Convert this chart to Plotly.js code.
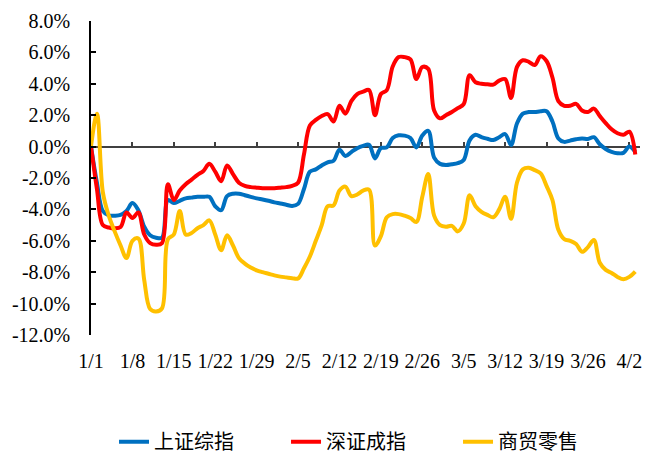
<!DOCTYPE html>
<html>
<head>
<meta charset="utf-8">
<script src="https://cdn.plot.ly/plotly-3.0.1.min.js"></script>
<style>html,body{margin:0;padding:0;background:#fff}#chart{width:646px;height:454px}</style>
</head>
<body>
<div id="chart"></div>
<script>
// series names
const seriesNames = ['上证综指', '深证成指', '商贸零售'];
const seriesColors = ['#0070C0', '#FF0000', '#FFC000'];

// daily dates 1/1 .. 4/3
const startDate = '2023-01-01';
const dayCount = 93;

// cumulative change (%), one value per day
const sse = [0,-2.3,-4.1,-4.38,-4.4,-4.35,-4.1,-3.6,-4.05,-5.1,
  -5.65,-5.8,-5.8,-3.4,-3.6,-3.45,-3.3,-3.25,-3.2,-3.2,
  -3.2,-3.8,-4.05,-3.15,-3.0,-3.0,-3.1,-3.2,-3.3,-3.37,
  -3.45,-3.55,-3.62,-3.7,-3.78,-3.65,-2.7,-1.6,-1.45,-1.2,
  -1.0,-0.9,-0.2,-0.6,-0.35,-0.1,0.05,0.12,-0.75,-0.1,
  -0.05,0.55,0.72,0.7,0.55,-0.05,0.7,1.0,-0.7,-1.1,
  -1.17,-1.12,-1.05,-0.85,0.4,0.75,0.6,0.5,0.42,0.6,
  0.8,0.1,1.47,2.1,2.2,2.2,2.25,2.25,1.6,0.52,
  0.3,0.38,0.47,0.52,0.48,0.6,0.15,-0.15,-0.33,-0.42,
  -0.4,0.0,-0.35];
const szse = [0,-2.7,-5.0,-5.15,-5.2,-5.12,-4.2,-4.55,-4.2,-5.6,
  -6.15,-6.25,-6.15,-2.4,-3.4,-2.8,-2.4,-2.1,-1.8,-1.55,
  -1.1,-1.6,-2.2,-1.2,-1.75,-2.3,-2.5,-2.58,-2.62,-2.65,
  -2.65,-2.65,-2.62,-2.58,-2.5,-2.3,-0.5,1.35,1.7,1.95,
  2.07,1.6,2.6,2.1,2.9,3.35,3.5,3.6,2.0,3.35,
  3.6,5.1,5.7,5.7,5.55,4.3,5.07,4.95,2.3,1.8,
  2.0,2.2,2.45,2.7,4.55,4.1,4.0,3.97,3.95,4.2,
  4.3,3.1,5.07,5.5,5.4,5.2,5.75,5.45,4.4,2.9,
  2.6,2.6,2.72,2.3,2.2,2.42,1.95,1.5,1.1,0.85,
  0.75,0.95,-0.5];
const retail = [0,2.1,-2.9,-4.4,-5.4,-6.3,-7.1,-6.0,-5.85,-8.5,
  -10.35,-10.5,-10.3,-5.9,-5.6,-4.1,-5.6,-5.5,-5.2,-5.0,
  -4.7,-5.6,-6.6,-5.65,-6.3,-7.1,-7.45,-7.7,-7.88,-8.0,
  -8.1,-8.2,-8.28,-8.33,-8.38,-8.4,-7.75,-7.0,-6.0,-5.0,
  -3.8,-3.75,-2.8,-2.55,-3.15,-3.05,-2.8,-2.75,-6.3,-5.7,
  -4.5,-4.3,-4.3,-4.4,-4.55,-4.8,-3.2,-1.75,-4.4,-5.0,
  -5.1,-5.05,-5.4,-4.9,-3.1,-3.8,-4.15,-4.35,-4.5,-4.0,
  -3.2,-4.6,-2.3,-1.45,-1.35,-1.5,-1.7,-2.5,-3.4,-5.3,
  -5.9,-6.0,-6.2,-6.7,-6.4,-5.95,-7.4,-7.85,-8.05,-8.3,
  -8.45,-8.3,-7.96];

// axis ticks
const yTickVals = [8,6,4,2,0,-2,-4,-6,-8,-10,-12];
const yTickText = ['8.0%','6.0%','4.0%','2.0%','0.0%','-2.0%','-4.0%','-6.0%','-8.0%','-10.0%','-12.0%'];
const xTickText = ['1/1','1/8','1/15','1/22','1/29','2/5','2/12','2/19','2/26','3/5','3/12','3/19','3/26','4/2'];

function pad(n){return (n<10?'0':'')+n;}
function toIso(dt){return dt.getUTCFullYear()+'-'+pad(dt.getUTCMonth()+1)+'-'+pad(dt.getUTCDate());}
const t0 = Date.parse(startDate+'T00:00:00Z');
const dates = [];
for (let i=0;i<dayCount;i++) dates.push(toIso(new Date(t0+i*86400000)));
const xTickVals = xTickText.map(s=>{const p=s.split('/');return '2023-'+pad(+p[0])+'-'+pad(+p[1]);});
const xRange = ['2023-01-01', '2023-04-03 19:12'];
const yRange = [-12, 8];
const zeroFrac = (0 - yRange[0]) / (yRange[1] - yRange[0]);

const allSeries = [sse, szse, retail];
const traces = allSeries.map((vals,i)=>({
  x: dates, y: vals, type:'scatter', mode:'lines', name: seriesNames[i],
  // retail sits on the overlay date axis x2 (same range), whose ticks are drawn at y = 0
  xaxis: i===2 ? 'x2' : 'x',
  line:{color:seriesColors[i], width:4, shape:'spline', smoothing:1},
  hoverinfo:'skip'
}));

const layout = {
  width:646, height:454,
  margin:{l:91, r:6, t:21, b:119, autoexpand:false},
  paper_bgcolor:'#fff', plot_bgcolor:'#fff',
  font:{family:'"Liberation Serif", "Times New Roman", serif', size:20, color:'#000'},
  showlegend:true,
  legend:{orientation:'h', xref:'container', yref:'paper', x:0.1765, y:-0.3396, xanchor:'left', yanchor:'middle',
    font:{family:'"Noto Sans CJK SC", sans-serif', size:20, color:'#000'},
    entrywidth:127, entrywidthmode:'pixels', traceorder:'normal'},
  xaxis:{type:'date', range:xRange, tickvals:xTickVals, ticktext:xTickText,
    showline:false, showgrid:false, zeroline:false, ticks:'', ticklabelstandoff:12,
    tickfont:{size:20}},
  // tick marks only; the line at zero itself is the y-axis zeroline, drawn beneath the data lines
  xaxis2:{type:'date', range:xRange, overlaying:'x', anchor:'free', position:zeroFrac, layer:'below traces',
    tickvals:xTickVals, showticklabels:false, showline:false,
    ticks:'inside', ticklen:5, tickwidth:1.5, tickcolor:'#404040', showgrid:false, zeroline:false},
  yaxis:{range:yRange, tickvals:yTickVals, ticktext:yTickText, showline:true, linecolor:'#000', linewidth:1.5,
    ticks:'inside', ticklen:5, tickwidth:1.5, tickcolor:'#000', showgrid:false,
    zeroline:true, zerolinecolor:'#404040', zerolinewidth:1.5,
    ticklabelstandoff:15, tickfont:{size:20}}
};
Plotly.newPlot('chart', traces, layout, {displayModeBar:false});
</script>
</body>
</html>
